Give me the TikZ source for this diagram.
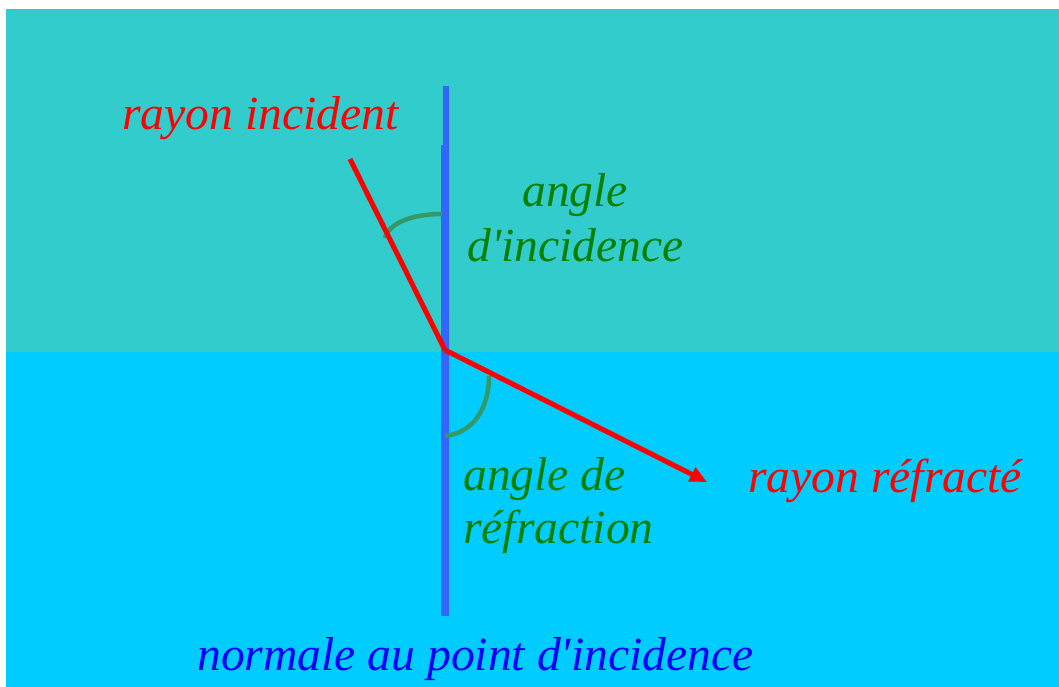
\documentclass[tikz,border=0pt]{standalone}
\usepackage{fontspec}
\setmainfont{Liberation Serif}[Ligatures=TeXOff]
\usetikzlibrary{arrows.meta}
\definecolor{airtop}{HTML}{33CCCC}
\definecolor{watertop}{HTML}{00CCFF}
\definecolor{normalc}{HTML}{3366FF}
\definecolor{arcc}{HTML}{339966}
\definecolor{labgreen}{HTML}{008000}
\begin{document}
\begin{tikzpicture}[x=1pt,y=-1pt,
  lab/.style={anchor=base west,inner sep=0pt,font=\fontsize{47.6}{55}\selectfont\itshape},
  ray/.style={draw=red,line width=5pt},
  anglearc/.style={draw=arcc,line width=4.5pt},
  normalline/.style={draw=normalc}]
\useasboundingbox (0,0) rectangle (1059,687);
\fill[white] (0,0) rectangle (1059,687);
\fill[airtop] (6,9) rectangle (1059,352);
\fill[watertop] (6,352) rectangle (1059,687);
% normal
\coordinate (ntop) at (446,86);
\coordinate (nmid) at (446,146);
\coordinate (nmid2) at (445,145);
\coordinate (nbot) at (445,616);
\coordinate (I) at (445,350);
\draw[normalline,line width=6pt] (ntop) -- (nmid);
\draw[normalline,line width=8pt] (nmid2) -- (nbot);
% arcs
\coordinate (a1s) at (442,214);
\coordinate (a1e) at (385,238);
\draw[anglearc] (a1s) .. controls (412,214) and (389,223) .. (a1e);
\coordinate (a2s) at (445,436);
\coordinate (a2e) at (489,376);
\draw[anglearc] (a2s) .. controls (472,433) and (489,410) .. (a2e);
% rays
\coordinate (S) at (350,159);
\coordinate (T) at (707,482);
\draw[ray,line cap=butt] (S) -- (I);
\draw[ray,-{Triangle[length=17pt,width=15pt]}] (I) -- (T);
% labels
\node[lab,text=red] (inc) at (122,130) {rayon incident};
\node[lab,text=red] (refr) at (748,492) {rayon réfracté};
\node[lab,text=labgreen] (ai1) at (522,206) {angle};
\node[lab,text=labgreen] (ai2) at (467,261) {d'incidence};
\node[lab,text=labgreen] (ar1) at (463,490) {angle de};
\node[lab,text=labgreen] (ar2) at (463,543) {réfraction};
\node[lab,text=blue] (norm) at (197,670) {normale au point d'incidence};
\end{tikzpicture}
\end{document}
